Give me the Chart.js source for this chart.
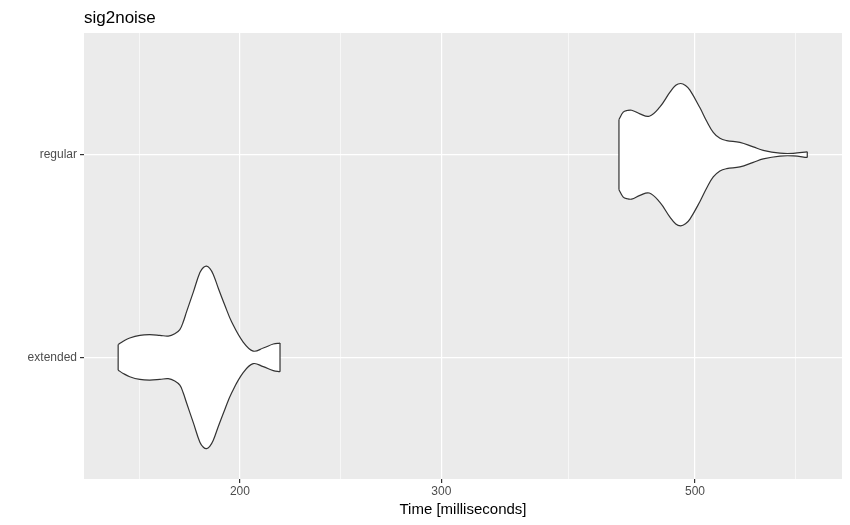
<!DOCTYPE html>
<html>
<head>
<meta charset="utf-8">
<title>sig2noise</title>
<script src="https://cdn.jsdelivr.net/npm/chart.js@4.4.0/dist/chart.umd.min.js"></script>
<style>
  body { margin: 0; background: #fff; }
  #wrap { width: 850px; height: 525px; }
</style>
</head>
<body>
<div id="wrap"><canvas id="violin-chart"></canvas></div>
<script>
var categories = ["extended", "regular"];

// violin outlines: time (ms) and scaled density (1 = widest violin)
var regularTime = [429.0, 432.7, 436.3, 440.1, 447.5, 456.0, 465.9, 475.4, 481.0, 485.8, 490.5, 494.9,
                   505.0, 511.9, 518.7, 525.7, 532.9, 547.3, 562.2, 573.6, 593.3, 609.4, 626.8];
var regularDensity = [0.385, 0.465, 0.484, 0.487, 0.447, 0.421, 0.524, 0.685, 0.760, 0.780, 0.758, 0.707,
                      0.513, 0.366, 0.245, 0.179, 0.154, 0.135, 0.085, 0.047, 0.016, 0.014, 0.031];

var extendedTime = [156.5, 158.1, 160.2, 163.5, 166.8, 170.2, 173.1, 175.4, 177.2, 178.4, 179.6, 182.1,
                    184.5, 185.8, 187.0, 188.2, 189.5, 191.5, 194.0, 196.7, 201.3, 205.4, 209.6, 213.9, 216.8];
var extendedDensity = [0.140, 0.176, 0.212, 0.242, 0.249, 0.242, 0.233, 0.259, 0.305, 0.388, 0.498, 0.718,
                       0.930, 0.985, 1.000, 0.975, 0.912, 0.755, 0.571, 0.388, 0.168, 0.069, 0.102, 0.146, 0.157];

var majorTicks = [200, 300, 500];
var minorTicks = [163.3, 244.9, 387.3, 612.4];

var halfWidth = 0.45; // ggplot violin width 0.9
var fontFamily = "'Liberation Sans', Arial, sans-serif";

function isMajor(v) { return majorTicks.indexOf(v) >= 0; }

function side(times, dens, center, sign) {
  return times.map(function(t, i) {
    return { x: t, y: center + sign * dens[i] * halfWidth };
  });
}

function cap(times, dens, center, i) {
  return [
    { x: times[i], y: center + dens[i] * halfWidth },
    { x: times[i], y: center - dens[i] * halfWidth }
  ];
}

function violin(times, dens, center) {
  var line = { borderColor: '#333333', borderWidth: 1.2, pointRadius: 0 };
  var last = times.length - 1;
  return [
    Object.assign({ data: side(times, dens, center, 1), fill: '+1', backgroundColor: '#FFFFFF',
                    tension: 0.4 }, line),
    Object.assign({ data: side(times, dens, center, -1), fill: false, tension: 0.4 }, line),
    Object.assign({ data: cap(times, dens, center, 0), fill: false, tension: 0 }, line),
    Object.assign({ data: cap(times, dens, center, last), fill: false, tension: 0 }, line)
  ];
}

var panel = {
  id: 'panel',
  beforeDraw: function(chart) {
    var a = chart.chartArea, ctx = chart.ctx;
    ctx.save();
    ctx.fillStyle = '#EBEBEB';
    ctx.fillRect(a.left, a.top, a.right - a.left, a.bottom - a.top);
    ctx.restore();
  },
  afterDraw: function(chart) {
    var ctx = chart.ctx;
    ctx.save();
    ctx.fillStyle = '#000000';
    ctx.font = '17px ' + fontFamily;
    ctx.textAlign = 'left';
    ctx.textBaseline = 'alphabetic';
    ctx.fillText('sig2noise', chart.chartArea.left, 23);
    ctx.restore();
  }
};

new Chart(document.getElementById("violin-chart"), {
  type: 'line',
  data: {
    datasets: violin(regularTime, regularDensity, 2).concat(violin(extendedTime, extendedDensity, 1))
  },
  plugins: [panel],
  options: {
    responsive: true,
    maintainAspectRatio: false,
    animation: false,
    layout: { padding: { top: 33, right: 8, left: 0, bottom: 0 } },
    plugins: {
      legend: { display: false },
      tooltip: { enabled: false },
      filler: { drawTime: 'beforeDatasetsDraw' }
    },
    scales: {
      x: {
        type: 'logarithmic',
        min: 146.1,
        max: 672.2,
        bounds: 'data',
        afterBuildTicks: function(axis) {
          axis.ticks = majorTicks.concat(minorTicks).sort(function(a, b) { return a - b; })
            .map(function(v) { return { value: v }; });
        },
        afterFit: function(axis) { axis.height = 46; },
        ticks: {
          autoSkip: false,
          maxRotation: 0,
          padding: 1,
          color: '#4D4D4D',
          font: { family: fontFamily, size: 12 },
          callback: function(v) { return isMajor(v) ? String(v) : ''; }
        },
        grid: {
          color: '#FFFFFF',
          lineWidth: function(c) { return c.tick && isMajor(c.tick.value) ? 1.2 : 0.6; },
          tickColor: function(c) { return c.tick && isMajor(c.tick.value) ? '#333333' : 'rgba(0,0,0,0)'; },
          tickLength: 4
        },
        border: { display: false },
        title: {
          display: true,
          text: 'Time [milliseconds]',
          color: '#000000',
          font: { family: fontFamily, size: 15 },
          padding: { top: 0, bottom: 6 }
        }
      },
      y: {
        type: 'linear',
        min: 0.4,
        max: 2.6,
        bounds: 'data',
        afterBuildTicks: function(axis) {
          axis.ticks = [{ value: 1 }, { value: 2 }];
        },
        afterFit: function(axis) { axis.width = 84; },
        ticks: {
          padding: 3,
          color: '#4D4D4D',
          font: { family: fontFamily, size: 12 },
          callback: function(v) { return categories[v - 1]; }
        },
        grid: {
          color: '#FFFFFF',
          lineWidth: 1.2,
          tickColor: '#333333',
          tickLength: 4
        },
        border: { display: false }
      }
    }
  }
});
</script>
</body>
</html>
